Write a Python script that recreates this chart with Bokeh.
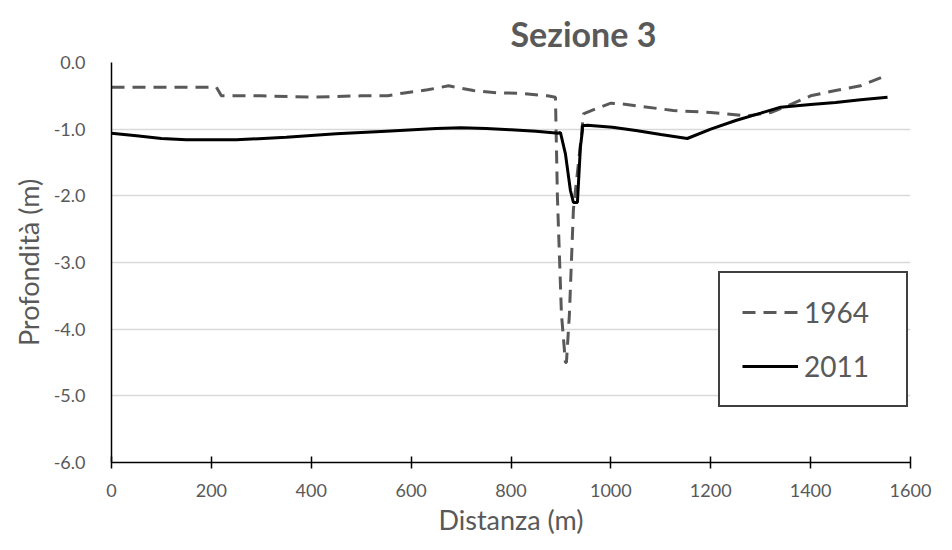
from bokeh.plotting import figure
from bokeh.models import FixedTicker, PrintfTickFormatter, Legend, LegendItem, Range1d
from bokeh.embed import file_html
from bokeh.resources import INLINE

# ---- data ----
x_1964 = [0, 210, 220, 300, 400, 500, 553, 583, 633, 675, 725, 773, 813, 873, 889,
          893, 901, 909, 911, 917, 925, 941, 945, 975, 1000, 1020, 1125, 1200, 1273,
          1320, 1354, 1400, 1450, 1500, 1543]
y_1964 = [-0.37, -0.37, -0.50, -0.50, -0.52, -0.50, -0.50, -0.46, -0.41, -0.35, -0.42, -0.455, -0.46, -0.50, -0.52,
          -2.03, -3.77, -4.50, -4.50, -3.77, -2.20, -1.10, -0.77, -0.68, -0.61, -0.62, -0.72, -0.75, -0.80,
          -0.75, -0.65, -0.50, -0.42, -0.35, -0.22]

x_2011 = [0, 50, 100, 150, 250, 350, 450, 550, 650, 700, 750, 800, 850, 895, 899,
          909, 919, 925, 933, 939, 943, 943, 953, 1003, 1050, 1100, 1153, 1200, 1250,
          1300, 1340, 1400, 1450, 1500, 1554]
y_2011 = [-1.06, -1.10, -1.14, -1.16, -1.16, -1.12, -1.07, -1.03, -0.99, -0.98, -0.99, -1.01, -1.03, -1.06, -1.05,
          -1.37, -1.92, -2.10, -2.10, -1.27, -1.02, -0.95, -0.94, -0.97, -1.02, -1.08, -1.14, -1.00, -0.87,
          -0.76, -0.67, -0.63, -0.60, -0.56, -0.52]

x_ticks = [0, 200, 400, 600, 800, 1000, 1200, 1400, 1600]
y_ticks = [-6.0, -5.0, -4.0, -3.0, -2.0, -1.0, 0.0]

FONT = "Lato"
GRAY = "#595959"

p = figure(width=936, height=540, output_backend="svg", toolbar_location=None,
           x_range=Range1d(0, 1600), y_range=Range1d(-6, 0),
           min_border_left=111, min_border_right=26, min_border_top=62, min_border_bottom=78)
p.outline_line_color = None
p.background_fill_color = "white"

# title
p.title.text = "Sezione 3"
p.title.text_font = FONT
p.title.text_font_style = "bold"
p.title.text_font_size = "34px"
p.title.text_color = GRAY
p.title.align = "left"
p.title.offset = 399
p.title.standoff = 18

# grid
p.xgrid.grid_line_color = None
p.ygrid.grid_line_color = "#d9d9d9"
p.ygrid.grid_line_width = 1.5
p.ygrid.ticker = FixedTicker(ticks=y_ticks)

# axes
p.xaxis.ticker = FixedTicker(ticks=x_ticks)
p.yaxis.ticker = FixedTicker(ticks=y_ticks)
p.yaxis.formatter = PrintfTickFormatter(format="%.1f")
for ax in (p.xaxis[0], p.yaxis[0]):
    ax.axis_line_color = "black"
    ax.axis_line_width = 1.5
    ax.major_label_text_font = FONT
    ax.major_label_text_font_size = "18px"
    ax.major_label_text_color = GRAY
    ax.axis_label_text_font = FONT
    ax.axis_label_text_font_size = "27px"
    ax.axis_label_text_color = GRAY
    ax.axis_label_text_font_style = "normal"
    ax.minor_tick_line_color = None

p.xaxis.major_tick_line_color = "black"
p.xaxis.major_tick_line_width = 1.5
p.xaxis.major_tick_in = 6
p.xaxis.major_tick_out = 6
p.xaxis.major_label_standoff = 15
p.xaxis.axis_label = "Distanza (m)"
p.xaxis.axis_label_standoff = 3

p.yaxis.major_tick_line_color = None
p.yaxis.major_label_standoff = 20
p.yaxis.axis_label = "Profondità (m)"
p.yaxis.axis_label_standoff = 6

r1 = p.line(x_1964, y_1964, line_color=GRAY, line_width=3, line_dash="13 8")
r2 = p.line(x_2011, y_2011, line_color="black", line_width=3)

legend = Legend(items=[LegendItem(label="1964", renderers=[r1]),
                       LegendItem(label="2011", renderers=[r2])],
                location=(607, 55))
legend.label_text_font = FONT
legend.label_text_font_size = "28px"
legend.label_text_color = GRAY
legend.glyph_width = 56
legend.glyph_height = 28
legend.label_height = 28
legend.label_width = 80
legend.label_standoff = 6
legend.spacing = 20
legend.padding = 22
legend.margin = 0
legend.border_line_color = "#404040"
legend.border_line_alpha = 1
legend.border_line_width = 2
legend.background_fill_color = "white"
legend.background_fill_alpha = 1
p.add_layout(legend, "center")

open("out.html", "w").write(file_html(p, INLINE))
